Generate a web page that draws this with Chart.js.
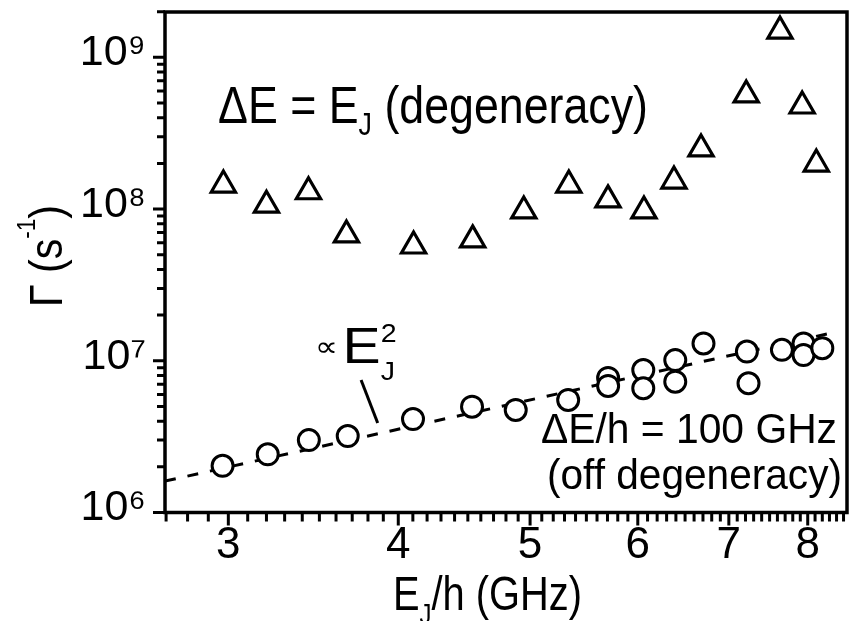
<!DOCTYPE html>
<html><head><meta charset="utf-8">
<script src="https://cdn.jsdelivr.net/npm/chart.js@4.4.0/dist/chart.umd.min.js"></script>
<style>html,body{margin:0;padding:0;background:#fff;} canvas{display:block;}</style>
</head><body>
<canvas id="c" width="854" height="621"></canvas>
<script>
// ---- data ----
const triE = [2.975, 3.200, 3.436, 3.664, 4.105, 4.537, 4.947, 5.339, 5.705, 6.063, 6.379, 6.678, 7.209, 7.633, 7.925, 8.117];
const triGamma = [1.44e8, 1.06e8, 1.30e8, 6.75e7, 5.71e7, 6.26e7, 9.72e7, 1.44e8, 1.15e8, 9.72e7, 1.53e8, 2.49e8, 5.65e8, 1.49e9, 4.78e8, 1.98e8];
const circE = [2.971, 3.207, 3.438, 3.672, 4.101, 4.532, 4.880, 5.333, 5.706, 5.706, 6.056, 6.056, 6.393, 6.393, 6.706, 7.217, 7.237, 7.658, 7.943, 7.943, 8.20];
const circGamma = [2.03e6, 2.42e6, 3.00e6, 3.19e6, 4.13e6, 4.98e6, 4.74e6, 5.52e6, 7.71e6, 6.83e6, 8.69e6, 6.59e6, 1.01e7, 7.28e6, 1.30e7, 1.15e7, 7.11e6, 1.18e7, 1.30e7, 1.09e7, 1.21e7];
const fitE = [2.695, 8.41];
const fitGamma = [1.61e6, 1.556e7];
const pointerE = [3.756, 3.863];
const pointerGamma = [7.47e6, 3.89e6];
const xTickValues = [3, 4, 5, 6, 7, 8];
const xTickLabels = ['3', '4', '5', '6', '7', '8'];
const yTickValues = [1e6, 1e7, 1e8, 1e9];
const yTickLabels = ['10⁶', '10⁷', '10⁸', '10⁹'];

const FAMILY = "'Liberation Sans', Arial, Helvetica, sans-serif";
const pts = (xs, ys) => xs.map((x, i) => ({x: x, y: ys[i]}));

function rich(ctx, runs, x, y, width, size, angle) {
  ctx.save();
  let total = 0;
  for (const r of runs) {
    ctx.font = (size * (r.s || 1)) + 'px ' + FAMILY;
    r._w = ctx.measureText(r.t).width;
    if (!r.noAdv) total += r._w;
  }
  const sx = width / total;
  ctx.translate(x, y);
  if (angle) ctx.rotate(angle);
  ctx.scale(sx, 1);
  ctx.fillStyle = '#000';
  ctx.textBaseline = 'alphabetic';
  ctx.textAlign = 'left';
  let cur = 0;
  for (const r of runs) {
    ctx.font = (size * (r.s || 1)) + 'px ' + FAMILY;
    ctx.fillText(r.t, cur, r.dy || 0);
    if (!r.noAdv) cur += r._w;
  }
  ctx.restore();
}

const noPad = s => { s.paddingTop = 0; s.paddingBottom = 0; s.paddingLeft = 0; s.paddingRight = 0; };

const frame = {
  id: 'frame',
  afterDatasetsDraw(chart) {
    const ctx = chart.ctx;
    const {left, right, top, bottom} = chart.chartArea;
    const xs = chart.scales.x, ys = chart.scales.y;
    ctx.save();
    ctx.strokeStyle = '#000';
    ctx.lineCap = 'butt';
    ctx.lineWidth = 3;
    ctx.beginPath();
    for (let k = 27; k <= 85; k++) {
      const px = xs.getPixelForValue(k / 10);
      if (px < left - 0.5 || px > right + 0.5) continue;
      const len = (k % 10 === 0) ? 13 : 9;
      ctx.moveTo(px, bottom); ctx.lineTo(px, bottom + len);
    }
    for (let e = 6; e <= 9; e++) {
      for (let m = 1; m <= 9; m++) {
        const py = ys.getPixelForValue(m * Math.pow(10, e));
        if (py < top - 0.5 || py > bottom + 0.5) continue;
        const len = (m === 1) ? 12 : 8;
        ctx.moveTo(left, py); ctx.lineTo(left - len, py);
      }
    }
    ctx.stroke();
    ctx.lineWidth = 3.5;
    ctx.strokeRect(left, top, right - left, bottom - top);
    ctx.restore();
  },
  afterDraw(chart) {
    const ctx = chart.ctx;
    rich(ctx, [{t: 'ΔE = E'}, {t: 'J', s: 0.6, dy: 12}, {t: ' (degeneracy)'}], 218, 123, 430, 52);
    rich(ctx, [{t: '∝', s: 0.55, dy: -7}, {t: ' ', s: 0.3}, {t: 'E'}, {t: '2', s: 0.5, dy: -21, noAdv: true}, {t: 'J', s: 0.5, dy: 17}], 315, 363, 80, 50);
    rich(ctx, [{t: 'ΔE/h = 100 GHz'}], 541, 443, 296, 42);
    rich(ctx, [{t: '(off degeneracy)'}], 547, 489, 295, 42);
    rich(ctx, [{t: 'Γ (s'}, {t: '-1', s: 0.55, dy: -27}, {t: ')'}], 62, 307, 102, 47, -Math.PI / 2);
    rich(ctx, [{t: 'E'}, {t: 'J', s: 0.6, dy: 14}, {t: '/h (GHz)'}], 393, 610, 189, 48);
  }
};

new Chart(document.getElementById('c'), {
  type: 'scatter',
  data: {
    datasets: [
      {label: 'off degeneracy', data: pts(circE, circGamma), pointStyle: 'circle', pointRadius: 10.5,
       pointBorderWidth: 3, borderColor: '#000', backgroundColor: '#fff', showLine: false},
      {label: 'degeneracy', data: pts(triE, triGamma), pointStyle: 'triangle', pointRadius: 14,
       pointBorderWidth: 3.2, borderColor: '#000', backgroundColor: '#fff', showLine: false},
      {label: 'pointer', data: pts(pointerE, pointerGamma), showLine: true, borderColor: '#000',
       borderWidth: 3, pointRadius: 0},
      {label: 'E_J^2', data: pts(fitE, fitGamma), showLine: true, borderColor: '#000',
       borderWidth: 3, borderDash: [11, 12], pointRadius: 0}
    ]
  },
  options: {
    responsive: false, animation: false, devicePixelRatio: 1, events: [],
    layout: {autoPadding: false, padding: {top: 12, right: 7, left: 0, bottom: 0}},
    plugins: {legend: {display: false}, tooltip: {enabled: false}},
    scales: {
      x: {
        type: 'logarithmic', position: 'bottom', min: 2.695, max: 8.55,
        afterBuildTicks: s => { s.ticks = xTickValues.map(v => ({value: v})); },
        afterFit: s => { s.height = 108.5; noPad(s); },
        grid: {display: false, drawTicks: false}, border: {display: false},
        ticks: {autoSkip: false, maxRotation: 0, minRotation: 0, padding: 7, color: '#000',
          font: {family: FAMILY, size: 44},
          callback: v => xTickLabels[xTickValues.indexOf(v)]}
      },
      y: {
        type: 'logarithmic', position: 'left', min: 1e6, max: 1.99e9,
        afterBuildTicks: s => { s.ticks = yTickValues.map(v => ({value: v})); },
        afterFit: s => { s.width = 165; noPad(s); },
        grid: {display: false, drawTicks: false}, border: {display: false},
        ticks: {autoSkip: false, padding: 19, labelOffset: -4, color: '#000',
          font: {family: FAMILY, size: 43},
          callback: v => yTickLabels[yTickValues.indexOf(v)]}
      }
    }
  },
  plugins: [frame]
});
</script>
</body></html>
